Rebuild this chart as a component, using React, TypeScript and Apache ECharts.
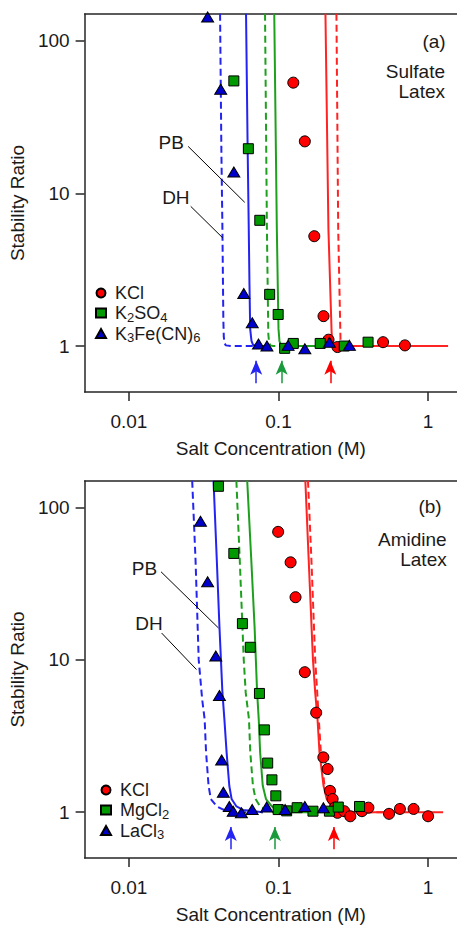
import React, { useEffect, useRef } from 'react';
import * as echarts from 'echarts';

const FONT = "'Liberation Sans', Arial, Helvetica, sans-serif";
const TXT = '#1a1a1a';
const AXIS = '#262626';

const X_MIN = 0.00506;
const X_MAX = 1.56;
const Y_MIN = 0.5;
const Y_MAX = 149.5;

const xTickValues = [0.01, 0.1, 1];
const yTickValues = [1, 10, 100];

const RED = '#ff0000';
const GREEN = '#009a00';
const BLUE = '#0000cc';
const RED_L = '#ff2424';
const GREEN_L = '#1ea01e';
const BLUE_L = '#2424f2';
const GREEN_ARROW = '#1a9a3c';

// ---------- Panel (a): sulfate latex ----------
const kclA = [[0.1256, 53.1], [0.15, 21.9], [0.1735, 5.24], [0.2, 1.57], [0.216, 1.1], [0.248, 0.985], [0.5, 1.06], [0.7, 1.01]];
const k2so4A = [[0.0503, 54.5], [0.0629, 19.6], [0.075, 6.66], [0.0873, 2.18], [0.0995, 1.61], [0.11, 0.966], [0.1256, 1.04], [0.19, 1.04], [0.275, 1.0], [0.397, 1.06]];
const k3feA = [[0.0336, 143], [0.0411, 48.1], [0.0503, 13.8], [0.0586, 2.21], [0.0668, 1.42], [0.0735, 1.03], [0.0837, 1.0], [0.116, 1.01], [0.15, 0.96], [0.219, 1.06], [0.298, 1.01]];

const kclPbA = [[0.206, 150], [0.2157, 5.8], [0.2265, 1.23], [0.229, 1.07], [0.232, 1.01], [0.24, 1.0], [1.36, 1.0]];
const kclDhA = [[0.244, 150], [0.2507, 5.8], [0.2597, 1.1], [0.263, 1.03], [0.2665, 1.0], [0.28, 1.0], [0.4, 1.0]];
const k2so4PbA = [[0.0937, 150], [0.0975, 5.8], [0.1, 1.3], [0.1015, 1.08], [0.1035, 1.01], [0.108, 1.0], [0.25, 1.0]];
const k2so4DhA = [[0.0813, 150], [0.0837, 5.8], [0.0855, 1.2], [0.0865, 1.06], [0.0882, 1.01], [0.092, 1.0], [0.11, 1.0]];
const k3fePbA = [[0.0607, 150], [0.0622, 20], [0.0632, 6.5], [0.064, 2.5], [0.0647, 1.29], [0.066, 1.08], [0.0675, 1.02], [0.071, 1.0], [0.085, 1.0]];
const k3feDhA = [[0.0407, 150], [0.0415, 20], [0.0422, 5.8], [0.0428, 1.49], [0.0431, 1.15], [0.0436, 1.04], [0.0445, 1.01], [0.048, 1.0], [0.075, 1.0]];

const pbLeaderA = [[0.0249, 20.3], [0.0595, 8.73]];
const dhLeaderA = [[0.0259, 8.22], [0.0424, 5.11]];
const pbLabelA = [0.02335, 21.4];
const dhLabelA = [0.02546, 9.33];
const arrowsA = [0.071, 0.105, 0.222];

// ---------- Panel (b): amidine latex ----------
const kclB = [[0.0995, 69.3], [0.1205, 43.7], [0.13, 25.8], [0.15, 8.3], [0.1786, 4.5], [0.1995, 2.29], [0.213, 1.92], [0.221, 1.38], [0.23, 1.22], [0.238, 1.07], [0.248, 0.99], [0.275, 1.015], [0.302, 0.94], [0.361, 1.015], [0.399, 1.07], [0.548, 0.975], [0.648, 1.05], [0.8, 1.05], [1.0, 0.94]];
const mgcl2B = [[0.0397, 138], [0.0503, 50.0], [0.0574, 17.3], [0.0648, 12.1], [0.0746, 6.02], [0.0805, 3.47], [0.0847, 2.1], [0.0904, 1.63], [0.096, 1.28], [0.0995, 1.04], [0.1134, 1.02], [0.1333, 1.07], [0.17, 1.015], [0.219, 1.015], [0.251, 1.08], [0.348, 1.09]];
const lacl3B = [[0.0301, 81.3], [0.0336, 32.6], [0.0381, 10.6], [0.0403, 5.84], [0.0417, 2.2], [0.0428, 1.35], [0.0469, 1.09], [0.0498, 1.015], [0.0565, 0.99], [0.0667, 1.04], [0.0834, 1.08], [0.1107, 1.04], [0.15, 1.09], [0.1995, 1.07]];

const kclPbB = [[0.1512, 150], [0.1592, 45.3], [0.17, 10], [0.176, 6.09], [0.1824, 4.07], [0.188, 2.47], [0.2, 1.49], [0.21, 1.22], [0.2266, 1.09], [0.2507, 1.025], [0.3, 1.0], [1.26, 1.0]];
const kclDhB = [[0.1575, 150], [0.166, 45.3], [0.176, 10], [0.1815, 6.09], [0.186, 4.07], [0.192, 2.47], [0.203, 1.49], [0.212, 1.22], [0.2266, 1.09], [0.248, 1.02], [0.3, 1.0], [0.5, 1.0]];
const mgcl2PbB = [[0.0618, 150], [0.0658, 45.3], [0.0692, 16.6], [0.072, 6.09], [0.0738, 4.07], [0.0754, 2.47], [0.0785, 1.49], [0.0825, 1.22], [0.0903, 1.09], [0.0985, 1.035], [0.115, 1.0], [0.25, 1.0]];
const mgcl2DhB = [[0.0523, 150], [0.0551, 45.3], [0.0586, 10], [0.0604, 6.09], [0.0635, 4.07], [0.0648, 2.47], [0.0675, 1.49], [0.0703, 1.22], [0.0754, 1.09], [0.0825, 1.04], [0.092, 1.0], [0.12, 1.0]];
const lacl3PbB = [[0.0368, 150], [0.0387, 45.3], [0.0403, 16.6], [0.0422, 6.09], [0.0435, 4.07], [0.045, 2.47], [0.0469, 1.49], [0.0486, 1.22], [0.0524, 1.09], [0.058, 1.035], [0.0785, 1.0]];
const lacl3DhB = [[0.0265, 150], [0.0279, 45.3], [0.0293, 10], [0.0309, 5.5], [0.0321, 4.07], [0.0328, 2.48], [0.0341, 1.49], [0.0353, 1.22], [0.0387, 1.09], [0.0428, 1.04], [0.0498, 1.0], [0.0785, 1.0]];

const pbLeaderB = [[0.0164, 37.9], [0.0397, 16.2]];
const dhLeaderB = [[0.01656, 15.0], [0.0283, 8.64]];
const pbLabelB = [0.01545, 39.9];
const dhLabelB = [0.01683, 17.46];
const arrowsB = [0.048, 0.0946, 0.2346];

const ARROW_BASE = 0.57;
const ARROW_TIP = 0.8;

const legendA = ['KCl', 'K2SO4', 'K3Fe(CN)6'];
const legendB = ['KCl', 'MgCl2', 'LaCl3'];
const legendRich: Record<string, string> = {
  KCl: 'KCl',
  K2SO4: 'K{s|2}SO{s|4}',
  'K3Fe(CN)6': 'K{s|3}Fe(CN){s|6}',
  MgCl2: 'MgCl{s|2}',
  LaCl3: 'LaCl{s|3}',
};

const textStyle = { fontFamily: FONT, fontSize: 19, color: TXT };

function scatter(name: string, gi: number, data: number[][], symbol: string, size: any, color: string) {
  return {
    type: 'scatter', name, xAxisIndex: gi, yAxisIndex: gi, data, symbol, symbolSize: size,
    itemStyle: { color, borderColor: '#000', borderWidth: 1, opacity: 1 },
    z: 6, silent: true,
  };
}

function curve(name: string, gi: number, data: number[][], color: string, dashed: boolean) {
  return {
    type: 'line', name, xAxisIndex: gi, yAxisIndex: gi, data, symbol: 'none', showSymbol: false,
    lineStyle: { color, width: 2, type: dashed ? [7, 4] : 'solid' },
    z: 3, silent: true, clip: true,
  };
}

function leader(name: string, gi: number, data: number[][]) {
  return {
    type: 'line', name, xAxisIndex: gi, yAxisIndex: gi, data, symbol: 'none', showSymbol: false,
    lineStyle: { color: '#000', width: 1 }, z: 4, silent: true,
  };
}

function arrows(name: string, gi: number, xs: number[]) {
  const colors = [BLUE_L, GREEN_ARROW, RED];
  return {
    type: 'line', name, xAxisIndex: gi, yAxisIndex: gi, data: [], silent: true,
    markLine: {
      silent: true, animation: false, symbol: ['none', 'arrow'], symbolSize: [9, 14],
      label: { show: false },
      data: xs.map((x, i) => [
        { coord: [x, ARROW_BASE], lineStyle: { color: colors[i], width: 1.5, type: 'solid' }, itemStyle: { color: colors[i] } },
        { coord: [x, ARROW_TIP] },
      ]),
    },
  };
}

function xAxisMain(gi: number) {
  return {
    gridIndex: gi, type: 'log', logBase: 10, min: X_MIN, max: X_MAX, position: 'bottom',
    name: 'Salt Concentration (M)', nameLocation: 'middle', nameGap: 47, nameTextStyle: textStyle,
    axisLine: { show: true, lineStyle: { color: AXIS, width: 1.5 } },
    axisTick: { show: true, length: 9, customValues: xTickValues, lineStyle: { color: AXIS, width: 1.5 } },
    axisLabel: { show: true, customValues: xTickValues, margin: 20, formatter: (v: number) => String(+Number(v).toPrecision(3)), ...textStyle },
    splitLine: { show: false }, minorTick: { show: false }, minorSplitLine: { show: false },
  };
}

function xAxisTop(gi: number) {
  return {
    gridIndex: gi, type: 'log', logBase: 10, min: X_MIN, max: X_MAX, position: 'top',
    axisLine: { show: true, lineStyle: { color: AXIS, width: 1.5 } },
    axisTick: { show: false }, axisLabel: { show: false }, splitLine: { show: false },
  };
}

function yAxisMain(gi: number) {
  return {
    gridIndex: gi, type: 'log', logBase: 10, min: Y_MIN, max: Y_MAX, position: 'left',
    name: 'Stability Ratio', nameLocation: 'middle', nameGap: 50, nameTextStyle: textStyle,
    axisLine: { show: true, lineStyle: { color: AXIS, width: 1.5 } },
    axisTick: { show: true, length: 9, customValues: yTickValues, lineStyle: { color: AXIS, width: 1.5 } },
    axisLabel: { show: true, customValues: yTickValues, margin: 15, formatter: (v: number) => String(+Number(v).toPrecision(3)), ...textStyle },
    splitLine: { show: false }, minorTick: { show: false }, minorSplitLine: { show: false },
  };
}

function legend(data: string[], left: number, top: number) {
  return {
    data, orient: 'vertical', left, top, padding: 0, itemGap: 0, itemWidth: 10, itemHeight: 9,
    selectedMode: false,
    formatter: (n: string) => '{g|}' + (legendRich[n] ?? n),
    textStyle: {
      fontFamily: FONT, fontSize: 18, color: TXT, lineHeight: 20,
      rich: {
        g: { width: 4 },
        s: { fontFamily: FONT, fontSize: 13, color: TXT, padding: [8, 0, 0, 0] },
      },
    },
  };
}

function text(id: string, x: number, y: number, str: string) {
  return {
    type: 'text', id, x, y, silent: true, z: 10,
    style: { text: str, fill: TXT, font: `19px ${FONT}`, align: 'right', verticalAlign: 'middle', textAlign: 'right', textVerticalAlign: 'middle', lineHeight: 20 },
  };
}

export default function App() {
  const ref = useRef<HTMLDivElement>(null);
  useEffect(() => {
    if (!ref.current) return;
    const chart = echarts.init(ref.current, null, { renderer: 'svg', width: 457, height: 925 });
    const cornerTexts = [
      text('ta', 445.7, 41.7, '(a)'),
      text('sa', 445, 81.7, 'Sulfate\nLatex'),
      text('tb', 441.7, 506.7, '(b)'),
      text('sb', 446.7, 549.5, 'Amidine\nLatex'),
    ];
    chart.setOption({
      animation: false,
      backgroundColor: '#ffffff',
      grid: [
        { left: 79, top: 14, width: 378, height: 378 },
        { left: 79, top: 481, width: 378, height: 379 },
      ],
      xAxis: [xAxisMain(0), xAxisMain(1), xAxisTop(0), xAxisTop(1)],
      yAxis: [yAxisMain(0), yAxisMain(1)],
      legend: [legend(legendA, 95, 283), legend(legendB, 100, 780)],
      graphic: cornerTexts,
      series: [
        curve('KCl PB a', 0, kclPbA, RED_L, false),
        curve('KCl DH a', 0, kclDhA, RED_L, true),
        curve('K2SO4 PB a', 0, k2so4PbA, GREEN_L, false),
        curve('K2SO4 DH a', 0, k2so4DhA, GREEN_L, true),
        curve('K3 PB a', 0, k3fePbA, BLUE_L, false),
        curve('K3 DH a', 0, k3feDhA, BLUE_L, true),
        leader('PB leader a', 0, pbLeaderA),
        leader('DH leader a', 0, dhLeaderA),
        arrows('arrows a', 0, arrowsA),
        scatter('KCl', 0, kclA, 'circle', 11, RED),
        scatter('K2SO4', 0, k2so4A, 'rect', 10, GREEN),
        scatter('K3Fe(CN)6', 0, k3feA, 'triangle', [12, 10], BLUE),

        curve('KCl PB b', 1, kclPbB, RED_L, false),
        curve('KCl DH b', 1, kclDhB, RED_L, true),
        curve('MgCl2 PB b', 1, mgcl2PbB, GREEN_L, false),
        curve('MgCl2 DH b', 1, mgcl2DhB, GREEN_L, true),
        curve('LaCl3 PB b', 1, lacl3PbB, BLUE_L, false),
        curve('LaCl3 DH b', 1, lacl3DhB, BLUE_L, true),
        leader('PB leader b', 1, pbLeaderB),
        leader('DH leader b', 1, dhLeaderB),
        arrows('arrows b', 1, arrowsB),
        scatter('KCl', 1, kclB, 'circle', 11, RED),
        scatter('MgCl2', 1, mgcl2B, 'rect', 10, GREEN),
        scatter('LaCl3', 1, lacl3B, 'triangle', [12, 10], BLUE),
      ],
    });
    // PB / DH annotation labels, placed through the axes' own scales
    const px = (gi: number, v: number[]) => chart.convertToPixel({ xAxisIndex: gi, yAxisIndex: gi }, v) as number[];
    const la = [
      { gi: 0, v: pbLabelA, s: 'PB', id: 'pba' },
      { gi: 0, v: dhLabelA, s: 'DH', id: 'dha' },
      { gi: 1, v: pbLabelB, s: 'PB', id: 'pbb' },
      { gi: 1, v: dhLabelB, s: 'DH', id: 'dhb' },
    ].map((l) => {
      const p = px(l.gi, l.v);
      return text(l.id, p[0], p[1], l.s);
    });
    chart.setOption({ graphic: [...cornerTexts, ...la] });
    return () => chart.dispose();
  }, []);
  return <div ref={ref} style={{ position: 'fixed', left: 0, top: 0, width: 457, height: 925, background: '#fff' }} />;
}
